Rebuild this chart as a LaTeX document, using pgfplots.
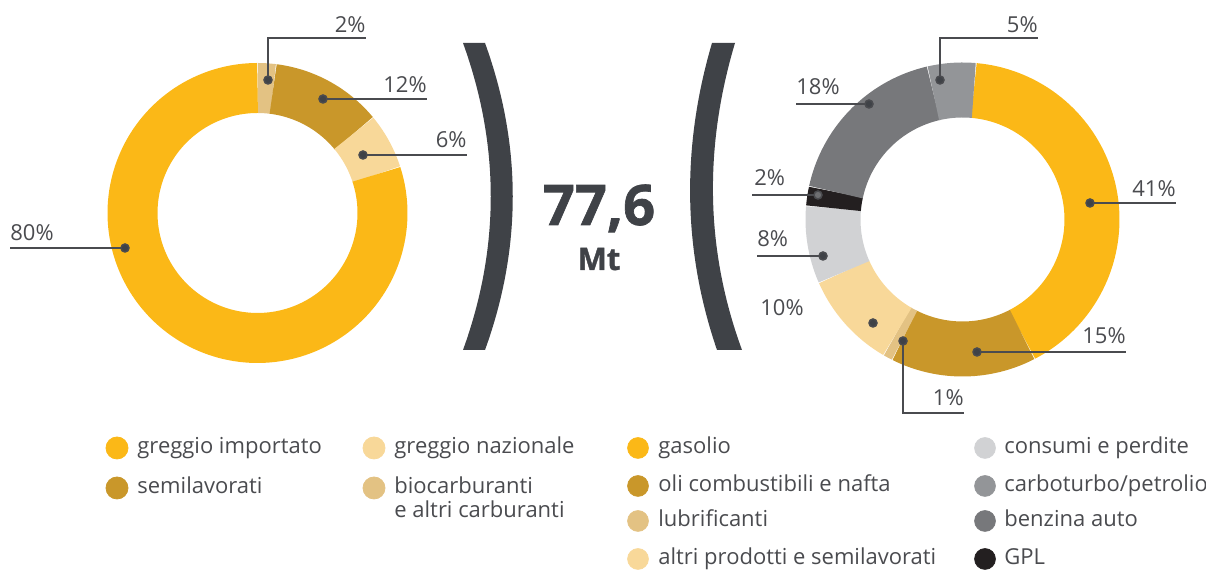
\documentclass[border=0pt]{standalone}
\usepackage{pgfplots}
\pgfplotsset{compat=1.18}
\usepackage{pgfplotstable}
\usepackage{fontspec}
\setmainfont{Open Sans}
\definecolor{cYel}{HTML}{FBB817}
\definecolor{cGold}{HTML}{C9972A}
\definecolor{cCream}{HTML}{F8D899}
\definecolor{cTan}{HTML}{E3C283}
\definecolor{cLGrey}{HTML}{D1D2D4}
\definecolor{cMGrey}{HTML}{939598}
\definecolor{cDGrey}{HTML}{77787B}
\definecolor{cBlack}{HTML}{231F20}
\definecolor{cBr}{HTML}{3F4247}
\definecolor{cText}{HTML}{4A4B4F}

% left donut: supply (%), clockwise from the top
\pgfplotstableread{
value col
2  cTan
12 cGold
6  cCream
80 cYel
}\lefttable
% right donut: products (%), clockwise from 85 deg
\pgfplotstableread{
value col
41 cYel
15 cGold
1  cTan
10 cCream
8  cLGrey
2  cBlack
18 cDGrey
5  cMGrey
}\righttable

% #1 table, #2 cx, #3 cy, #4 mid radius, #5 ring width, #6 start angle
\newcommand{\donut}[6]{%
  \pgfplotstablegetrowsof{#1}%
  \pgfmathtruncatemacro\N{\pgfplotsretval-1}%
  \def\cum{0}%
  \pgfplotsforeachungrouped \i in {0,...,\N}{%
    \pgfplotstablegetelem{\i}{value}\of#1\let\v\pgfplotsretval
    \pgfplotstablegetelem{\i}{col}\of#1\let\c\pgfplotsretval
    \pgfmathsetmacro\a{#6-3.6*\cum}%
    \pgfmathsetmacro\b{#6-3.6*(\cum+\v)}%
    \pgfmathtruncatemacro\s{max(3,ceil(3.6*\v/2)+1)}%
    \edef\temp{\noexpand\addplot[draw=\c, line width=#5, line cap=butt, line join=round, domain=\b:\a, samples=\s, variable=\noexpand\t] ({#2+#4*cos(\noexpand\t)},{#3+#4*sin(\noexpand\t)});}%
    \temp
    \pgfmathsetmacro\cum{\cum+\v}%
  }%
}

\begin{document}
\begin{tikzpicture}[
  lbl/.style={font=\fontsize{11}{13}\selectfont, text=cText, inner sep=0pt},
  lead/.style={draw=cText, line width=0.75pt, mark=*, mark size=2pt, mark options={fill=cBr, draw=none}},
]
\begin{axis}[x=0.5pt, y=0.5pt, xmin=0, xmax=1206, ymin=0, ymax=571,
  hide axis, clip=false]

\donut{\lefttable}{257.5}{358}{125}{25pt}{90}
\donut{\righttable}{962.5}{351.5}{129.5}{27.5pt}{85}

% leader lines, left donut
\addplot[lead, mark indices={1}] coordinates {(268,491) (268,533) (366,533)};
\addplot[lead, mark indices={1}] coordinates {(323,472) (427,472)};
\addplot[lead, mark indices={1}] coordinates {(363,416) (467,416)};
\addplot[lead, mark indices={1}] coordinates {(125,323) (10,323)};
\node[lbl, anchor=base east] at (axis cs:366,538) {2\%};
\node[lbl, anchor=base east] at (axis cs:427,478) {12\%};
\node[lbl, anchor=base east] at (axis cs:467,423) {6\%};
\node[lbl, anchor=base west] at (axis cs:10,330) {80\%};

% leader lines, right donut
\addplot[lead, mark indices={1}] coordinates {(940,491) (940,533) (1038,533)};
\addplot[lead, mark indices={1}] coordinates {(869,467) (796,467)};
\addplot[lead, mark indices={1}, mark options={fill=cText!80, draw=none}] coordinates {(818,376) (752,376)};
\addplot[lead, mark indices={1}] coordinates {(823,315) (757,315)};
\addplot[lead, mark indices={1}] coordinates {(873,248)};
\addplot[lead, mark indices={1}] coordinates {(903,230) (903,158) (964,158)};
\addplot[lead, mark indices={1}] coordinates {(977,219) (1126,219)};
\addplot[lead, mark indices={1}] coordinates {(1090,368) (1176,368)};
\node[lbl, anchor=base east] at (axis cs:1038,538) {5\%};
\node[lbl, anchor=base west] at (axis cs:796,476) {18\%};
\node[lbl, anchor=base west] at (axis cs:754,385) {2\%};
\node[lbl, anchor=base west] at (axis cs:757,324) {8\%};
\node[lbl, anchor=base west] at (axis cs:760,255) {10\%};
\node[lbl, anchor=base east] at (axis cs:964,165) {1\%};
\node[lbl, anchor=base east] at (axis cs:1126,227) {15\%};
\node[lbl, anchor=base east] at (axis cs:1176,374) {41\%};

% brackets and total
\fill[cBr] (axis cs:463,528) -- (axis cs:485,528) .. controls (axis cs:522,426) and (axis cs:522,323) .. (axis cs:485,221) -- (axis cs:463,221) .. controls (axis cs:500,323) and (axis cs:500,426) .. cycle;
\fill[cBr] (axis cs:712,528) -- (axis cs:735,528) .. controls (axis cs:704.5,426) and (axis cs:704.5,323) .. (axis cs:742,221) -- (axis cs:717,221) .. controls (axis cs:682,323) and (axis cs:682,426) .. cycle;
\node[font=\fontsize{28}{28}\selectfont\bfseries\addfontfeature{FakeBold=1.2}, text=cBr, anchor=base, inner sep=0pt] at (axis cs:599,346) {77,6};
\node[font=\fontsize{15.5}{16}\selectfont\bfseries\addfontfeature{FakeBold=1.2}, text=cBr, anchor=base, inner sep=0pt] at (axis cs:599,301) {Mt};

% legend markers
\addplot[only marks, mark=*, mark size=5.5pt, color=cYel] coordinates {(117,123)};
\addplot[only marks, mark=*, mark size=5.5pt, color=cGold] coordinates {(117,83)};
\addplot[only marks, mark=*, mark size=5.5pt, color=cCream] coordinates {(374,123)};
\addplot[only marks, mark=*, mark size=5.5pt, color=cTan] coordinates {(374,83)};
\addplot[only marks, mark=*, mark size=5.2pt, color=cYel] coordinates {(638,123)};
\addplot[only marks, mark=*, mark size=5.2pt, color=cGold] coordinates {(638,85)};
\addplot[only marks, mark=*, mark size=5.2pt, color=cTan] coordinates {(638,50)};
\addplot[only marks, mark=*, mark size=5.2pt, color=cCream] coordinates {(638,12)};
\addplot[only marks, mark=*, mark size=5.2pt, color=cLGrey] coordinates {(985,123)};
\addplot[only marks, mark=*, mark size=5.2pt, color=cMGrey] coordinates {(985,85)};
\addplot[only marks, mark=*, mark size=5.2pt, color=cDGrey] coordinates {(985,50)};
\addplot[only marks, mark=*, mark size=5.2pt, color=cBlack] coordinates {(985,12)};

\node[lbl, anchor=mid west] at (axis cs:137,123) {greggio importato};
\node[lbl, anchor=mid west] at (axis cs:137,83) {semilavorati};
\node[lbl, anchor=mid west] at (axis cs:394,123) {greggio nazionale};
\node[lbl, anchor=mid west] at (axis cs:394,83) {biocarburanti};
\node[lbl, anchor=mid west] at (axis cs:394,59) {e altri carburanti};
\node[lbl, anchor=mid west] at (axis cs:658,123) {gasolio};
\node[lbl, anchor=mid west] at (axis cs:658,85) {oli combustibili e nafta};
\node[lbl, anchor=mid west] at (axis cs:658,50) {lubrificanti};
\node[lbl, anchor=mid west] at (axis cs:658,12) {altri prodotti e semilavorati};
\node[lbl, anchor=mid west] at (axis cs:1004,123) {consumi e perdite};
\node[lbl, anchor=mid west] at (axis cs:1004,85) {carboturbo/petrolio};
\node[lbl, anchor=mid west] at (axis cs:1004,50) {benzina auto};
\node[lbl, anchor=mid west] at (axis cs:1004,12) {GPL};
\end{axis}
\pgfresetboundingbox
\path[use as bounding box] (current axis.south west) rectangle (current axis.north east);
\end{tikzpicture}
\end{document}
